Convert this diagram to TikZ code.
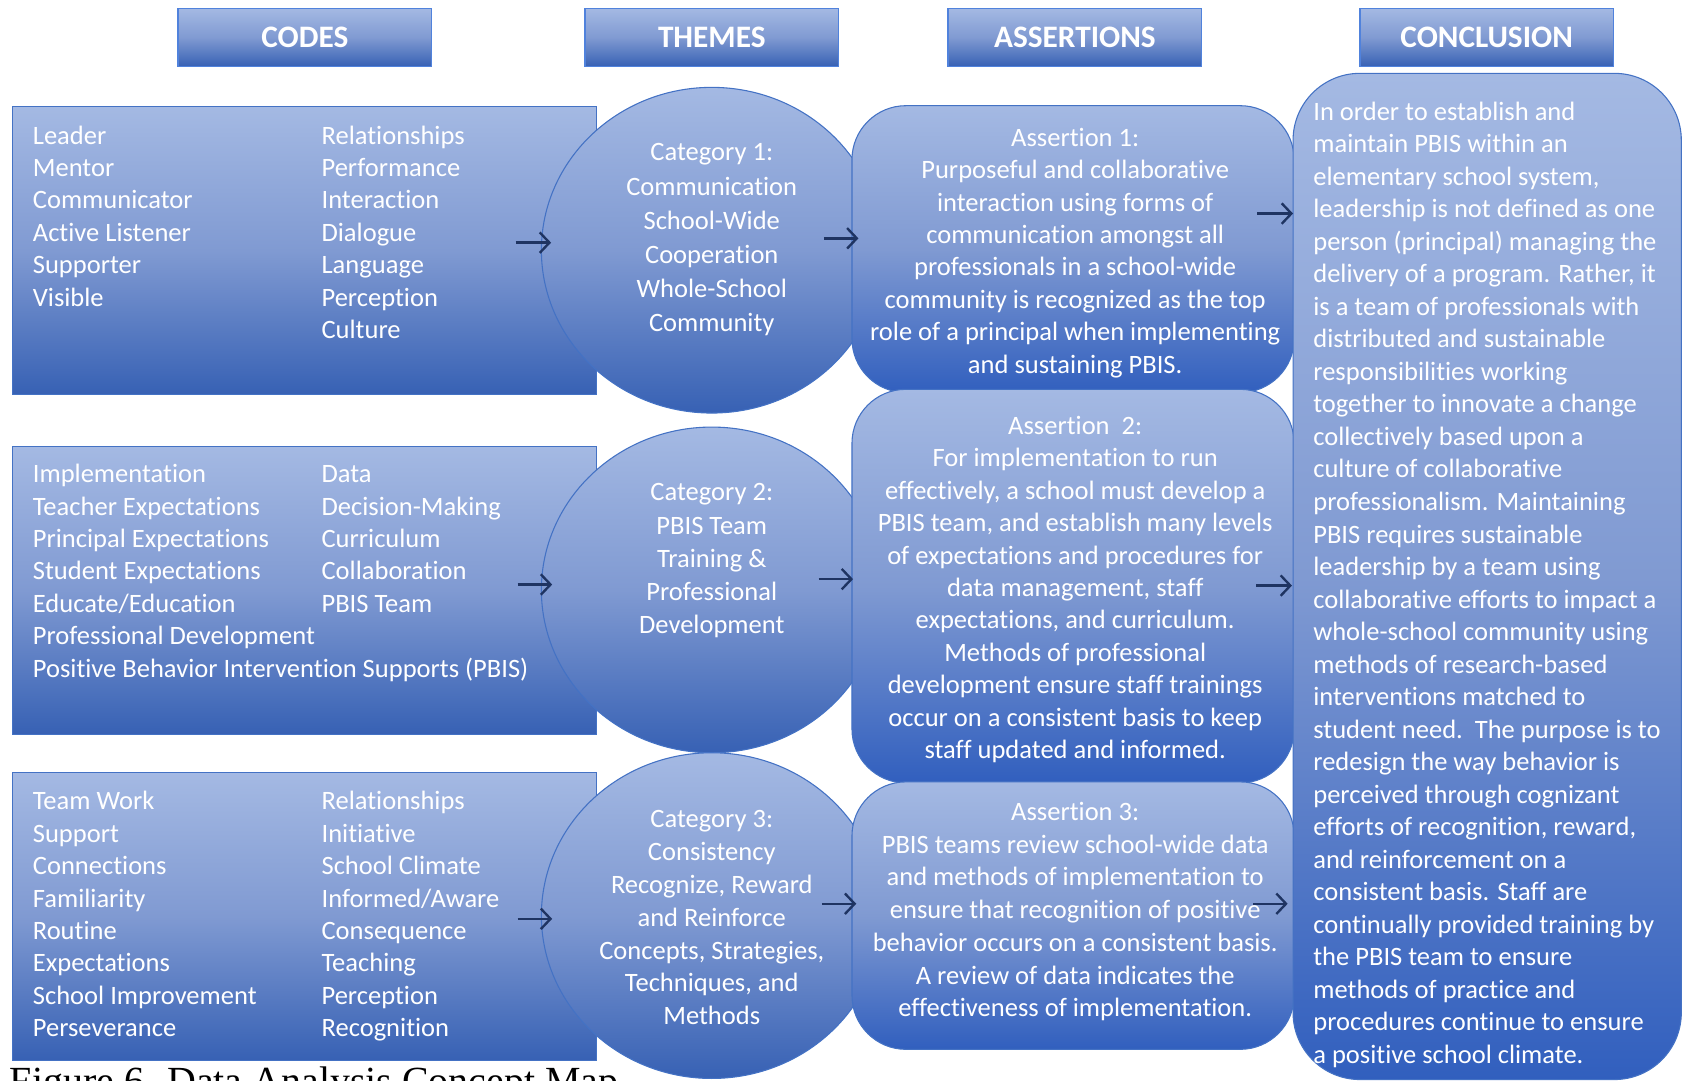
\documentclass[tikz,border=0pt]{standalone}
\usepackage{fontspec}
\setmainfont{Carlito}[Ligatures=NoCommon]
\newfontfamily\capfont{Liberation Serif}
\usetikzlibrary{arrows.meta,shapes.geometric}
\definecolor{gtop}{RGB}{164,185,227}
\definecolor{gmid}{RGB}{128,154,210}
\definecolor{gbot}{RGB}{55,97,180}
\definecolor{gbotb}{RGB}{49,95,190}
\definecolor{edgec}{RGB}{68,114,196}
\definecolor{hedge}{RGB}{80,130,220}
\definecolor{arrowc}{RGB}{31,52,98}
\begin{document}
\begin{tikzpicture}[x=1pt,y=-1pt,
  gradA/.style={top color=gtop,bottom color=gbot,middle color=gmid},
  gradB/.style={top color=gtop,bottom color=gbotb,middle color=gmid},
  shapeline/.style={draw=edgec,line width=1pt},
  hdr/.style={rectangle,gradA,draw=hedge,line width=1.3pt,minimum width=235pt,minimum height=54pt,inner sep=0pt,
    text=white,font=\fontsize{29}{34}\selectfont\bfseries},
  codebox/.style={rectangle,gradA,shapeline,minimum width=541pt,minimum height=267pt,inner sep=0pt},
  catshape/.style={ellipse,gradA,shapeline,minimum width=316pt,minimum height=302pt,inner sep=0pt},
  asshape/.style={rectangle,rounded corners=50pt,gradB,shapeline,minimum width=410pt,inner sep=0pt},
  body/.style={text=white,inner sep=0pt,font=\fontsize{24.6}{30.1}\selectfont},
  lbody/.style={body,anchor=north west,align=left},
  cbody/.style={body,anchor=north,align=center},
  conn/.style={draw=arrowc,line width=2.2pt,-{Straight Barb[length=9pt,width=19pt]}}
]
\useasboundingbox (0,0) rectangle (1568,1002);

% headers
\node[hdr] (hcodes) at (282.7,34.8) {CODES};
\node[hdr] (hthemes) at (660,34.8) {THEMES};
\node[hdr] (hassert) at (996.7,34.8) {ASSERTIONS};
\node[hdr] (hconcl) at (1378.5,34.8) {CONCLUSION};

% code boxes
\node[codebox] (codesA) at (282.5,232.5) {};
\node[codebox] (codesB) at (282.5,547.3) {};
\node[codebox] (codesC) at (282.5,849.5) {};

\node[lbody] (cA1) at (30.3,112.3) {\strut Leader\\Mentor\\Communicator\\Active Listener\\Supporter\\Visible};
\node[lbody] (cA2) at (298,112.3) {\strut Relationships\\Performance\\Interaction\\Dialogue\\Language\\Perception\\Culture};
\node[lbody] (cB1) at (30.3,426.2) {\strut Implementation\\Teacher Expectations\\Principal Expectations\\Student Expectations\\Educate/Education\\Professional Development\\Positive Behavior Intervention Supports (PBIS)};
\node[lbody] (cB2) at (298,426.2) {\strut Data\\Decision-Making\\Curriculum\\Collaboration\\PBIS Team};
\node[lbody] (cC1) at (30.3,729.5) {\strut Team Work\\Support\\Connections\\Familiarity\\Routine\\Expectations\\School Improvement\\Perseverance};
\node[lbody] (cC2) at (298,729.5) {\strut Relationships\\Initiative\\School Climate\\Informed/Aware\\Consequence\\Teaching\\Perception\\Recognition};

% category circles
\node[catshape] (catA) at (660,232) {};
\node[catshape] (catB) at (660,547) {};
\node[catshape] (catC) at (660,849) {};

\node[cbody,font=\fontsize{24.6}{31.7}\selectfont] (tA) at (660,126.8) {\strut Category 1:\\Communication\\School-Wide\\Cooperation\\Whole-School\\Community};
\node[cbody,font=\fontsize{24.6}{30.75}\selectfont] (tB) at (660,442.8) {\strut Category 2:\\PBIS Team\\Training \&\\Professional\\Development};
\node[cbody,font=\fontsize{24.6}{30.4}\selectfont] (tC) at (660,746.2) {\strut Category 3:\\Consistency\\Recognize, Reward\\and Reinforce\\Concepts, Strategies,\\Techniques, and\\Methods};

% arrows codes -> categories
\coordinate (a1s) at (478,225); \coordinate (a1e) at (511,225);
\coordinate (a2s) at (480,542); \coordinate (a2e) at (512,542);
\coordinate (a3s) at (480,852); \coordinate (a3e) at (512,852);
\draw[conn] (a1s) -- (a1e);
\draw[conn] (a2s) -- (a2e);
\draw[conn] (a3s) -- (a3e);

% assertion boxes
\node[asshape,minimum height=266pt] (asA) at (995,231) {};
\node[asshape,minimum height=365pt] (asB) at (995,543.5) {};
\node[asshape,minimum height=248pt] (asC) at (995,849) {};

\node[cbody] (sA) at (997,114.2) {\strut Assertion 1:\\Purposeful and collaborative\\interaction using forms of\\communication amongst all\\professionals in a school-wide\\community is recognized as the top\\role of a principal when implementing\\and sustaining PBIS.};
\node[cbody] (sB) at (997,381.3) {\strut Assertion\ \ 2:\\For implementation to run\\effectively, a school must develop a\\PBIS team, and establish many levels\\of expectations and procedures for\\data management, staff\\expectations, and curriculum.\\Methods of professional\\development ensure staff trainings\\occur on a consistent basis to keep\\staff updated and informed.};
\node[cbody,font=\fontsize{24.6}{30.4}\selectfont] (sC) at (997,739.1) {\strut Assertion 3:\\PBIS teams review school-wide data\\and methods of implementation to\\ensure that recognition of positive\\behavior occurs on a consistent basis.\\A review of data indicates the\\effectiveness of implementation.};

% arrows categories -> assertions
\coordinate (b1s) at (764,221); \coordinate (b1e) at (796,221);
\coordinate (b2s) at (759,537); \coordinate (b2e) at (791,537);
\coordinate (b3s) at (762,838); \coordinate (b3e) at (794,838);
\draw[conn] (b1s) -- (b1e);
\draw[conn] (b2s) -- (b2e);
\draw[conn] (b3s) -- (b3e);

% conclusion
\node[rectangle,rounded corners=62pt,gradB,shapeline,minimum width=360pt,minimum height=933pt,inner sep=0pt] (concl) at (1379,534.5) {};
\node[lbody,font=\fontsize{24.6}{30.16}\selectfont] (ctext) at (1217.6,90.1) {\strut In order to establish and\\maintain PBIS within an\\elementary school system,\\leadership is not defined as one\\person (principal) managing the\\delivery of a program. Rather, it\\is a team of professionals with\\distributed and sustainable\\responsibilities working\\together to innovate a change\\collectively based upon a\\culture of collaborative\\professionalism. Maintaining\\PBIS requires sustainable\\leadership by a team using\\collaborative efforts to impact a\\whole-school community using\\methods of research-based\\interventions matched to\\student need.\ \ The purpose is to\\redesign the way behavior is\\perceived through cognizant\\efforts of recognition, reward,\\and reinforcement on a\\consistent basis. Staff are\\continually provided training by\\the PBIS team to ensure\\methods of practice and\\procedures continue to ensure\\a positive school climate.};

% arrows assertions -> conclusion
\coordinate (c1s) at (1166,198); \coordinate (c1e) at (1199,198);
\coordinate (c2s) at (1165,543); \coordinate (c2e) at (1198,543);
\coordinate (c3s) at (1162,838); \coordinate (c3e) at (1194,838);
\draw[conn] (c1s) -- (c1e);
\draw[conn] (c2s) -- (c2e);
\draw[conn] (c3s) -- (c3e);

% caption (cut off by the lower edge, as in the reference)
\node[anchor=base west,inner sep=0pt,font=\capfont\fontsize{37}{44}\selectfont] (caption) at (9,1015) {Figure 6. Data Analysis Concept Map};
\end{tikzpicture}
\end{document}
